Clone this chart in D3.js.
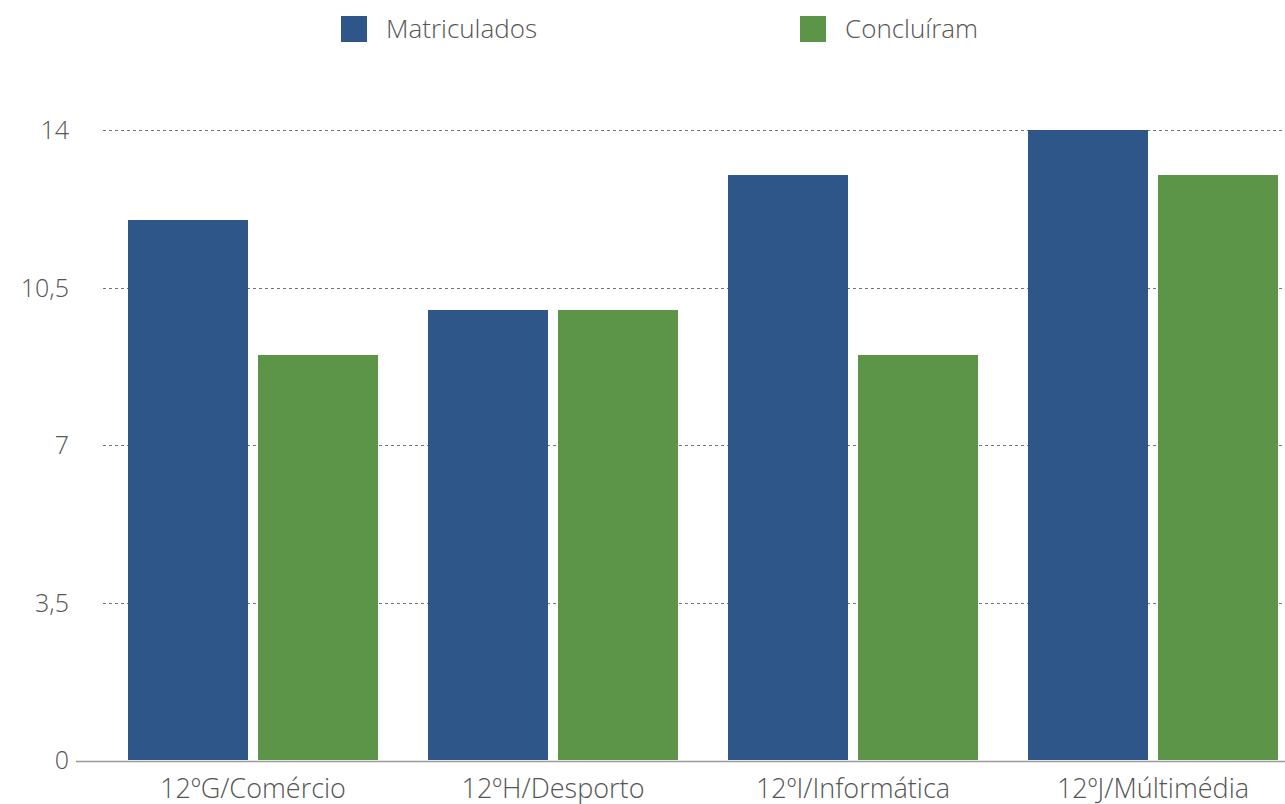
<!DOCTYPE html>
<html>
<head>
<meta charset="utf-8">
<script src="https://cdn.jsdelivr.net/npm/d3@7"></script>
<style>
  body { margin: 0; background: #fff; }
  text { font-family: "Open Sans", Lato, sans-serif; font-weight: 300; fill: #555; }
  .grid line { stroke: #777; stroke-dasharray: 3,3; stroke-width: 1; }
</style>
</head>
<body>
<svg id="chart" width="1285" height="804"></svg>
<script>
const classes = ["12ºG/Comércio", "12ºH/Desporto", "12ºI/Informática", "12ºJ/Múltimédia"];
const series = ["Matriculados", "Concluíram"];
const matriculados = [12, 10, 13, 14];
const concluiram = [9, 10, 9, 13];
const yTicks = [0, 3.5, 7, 10.5, 14];
const colors = ["#2e5689", "#5c9547"];

const svg = d3.select("#chart");

const x = d3.scaleBand().domain(classes).range([103, 1303]);
const inner = d3.scaleBand().domain(series).range([25, 275]).paddingInner(1 / 13);
const y = d3.scaleLinear().domain([0, 14]).range([760, 130]);

// gridlines
svg.append("g").attr("class", "grid")
  .selectAll("line")
  .data(yTicks.filter(d => d > 0))
  .enter().append("line")
  .attr("x1", 103).attr("x2", 1285)
  .attr("y1", d => Math.round(y(d)) + 0.5)
  .attr("y2", d => Math.round(y(d)) + 0.5);

// y labels
svg.append("g").selectAll("text")
  .data(yTicks)
  .enter().append("text")
  .attr("x", 69)
  .attr("y", d => y(d) + 9)
  .attr("text-anchor", "end")
  .style("font-size", "25px")
  .text(d => String(d).replace(".", ","));

// bars
const rows = classes.map((c, i) => ({ c: c, vals: [matriculados[i], concluiram[i]] }));
const groups = svg.append("g").selectAll("g")
  .data(rows)
  .enter().append("g")
  .attr("transform", d => `translate(${x(d.c)},0)`);

groups.selectAll("rect")
  .data(d => d.vals.map((v, j) => ({ s: series[j], v: v, j: j })))
  .enter().append("rect")
  .attr("x", d => inner(d.s))
  .attr("width", inner.bandwidth())
  .attr("y", d => y(d.v))
  .attr("height", d => y(0) - y(d.v))
  .attr("fill", d => colors[d.j]);

// baseline
svg.append("line")
  .attr("x1", 76).attr("x2", 1285)
  .attr("y1", 761.5).attr("y2", 761.5)
  .attr("stroke", "#999").attr("stroke-width", 1.5);

// x labels
svg.append("g").selectAll("text")
  .data(classes)
  .enter().append("text")
  .attr("x", d => x(d) + x.bandwidth() / 2)
  .attr("y", 798)
  .attr("text-anchor", "middle")
  .style("font-size", "27px")
  .text(d => d);

// legend
const legendX = [341, 800];
const legend = svg.append("g").selectAll("g")
  .data(series)
  .enter().append("g")
  .attr("transform", (d, i) => `translate(${legendX[i]},16)`);
legend.append("rect").attr("width", 26).attr("height", 26).attr("fill", (d, i) => colors[i]);
legend.append("text").attr("x", 45).attr("y", 22).style("font-size", "26px").text(d => d);
</script>
</body>
</html>
